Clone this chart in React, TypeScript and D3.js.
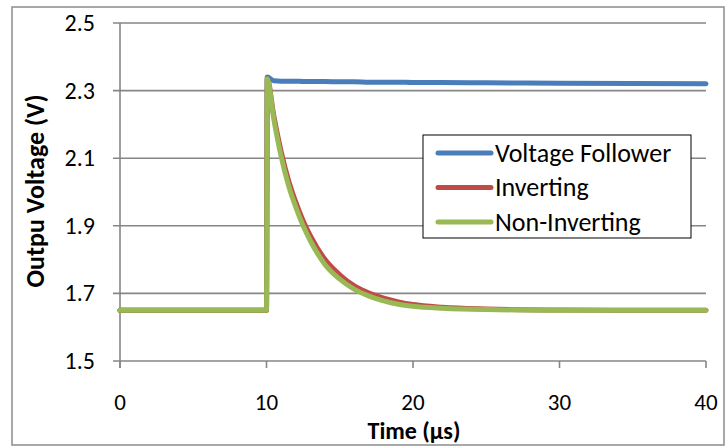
import React from "react";
import * as d3 from "d3";

// time in microseconds
const times = [0, 10, 10.05, 10.5, 11, 11.5, 12, 12.5, 13, 14, 15, 16, 17, 18, 19, 20, 22, 25, 30, 40];
const follower = [1.65, 1.65, 2.34, 2.329, 2.328, 2.328, 2.328, 2.327, 2.327, 2.327, 2.326, 2.326, 2.325, 2.325, 2.325, 2.324, 2.324, 2.323, 2.322, 2.32];
const inverting = [1.65, 1.65, 2.335, 2.225, 2.12, 2.035, 1.97, 1.915, 1.87, 1.8, 1.755, 1.722, 1.701, 1.686, 1.675, 1.667, 1.659, 1.654, 1.651, 1.65];
const nonInverting = [1.65, 1.65, 2.335, 2.215, 2.105, 2.02, 1.955, 1.9, 1.855, 1.785, 1.742, 1.712, 1.692, 1.678, 1.668, 1.662, 1.656, 1.652, 1.65, 1.65];

const seriesNames = ["Voltage Follower", "Inverting", "Non-Inverting"];
const seriesColors = ["#4a7ebb", "#be4b48", "#98b954"];
const xTicks = [0, 10, 20, 30, 40];
const yTicks = [1.5, 1.7, 1.9, 2.1, 2.3, 2.5];

const App = () => {
  const width = 725;
  const height = 446;
  const x = d3.scaleLinear().domain([0, 40]).range([120, 706]);
  const y = d3.scaleLinear().domain([1.5, 2.5]).range([361, 23]);
  const line = d3
    .line<[number, number]>()
    .x((d) => x(d[0]))
    .y((d) => y(d[1]))
    .curve(d3.curveMonotoneX);
  const all = [follower, inverting, nonInverting];
  const font = "Carlito, Calibri, 'Open Sans', sans-serif";
  const grey = "#868686";

  return (
    <svg
      width={width}
      height={height}
      style={{ position: "absolute", left: 0, top: 0 }}
      fontFamily={font}
    >
      <rect x={0} y={0} width={width} height={height} fill="white" />
      <rect x={12} y={7} width={712} height={438} fill="none" stroke="#8c8c8c" strokeWidth={1.5} />

      {yTicks.map((t) => (
        <g key={t}>
          <line x1={113} x2={x(40)} y1={y(t)} y2={y(t)} stroke={grey} strokeWidth={1.6} />
          <text x={95} y={y(t) + 8} fontSize={24} textAnchor="end" fill="#000">
            {t.toFixed(1)}
          </text>
        </g>
      ))}
      <line x1={x(0)} x2={x(0)} y1={y(2.5)} y2={368} stroke={grey} strokeWidth={1.6} />
      {xTicks.map((t) => (
        <g key={t}>
          <line x1={x(t)} x2={x(t)} y1={y(1.5)} y2={368} stroke={grey} strokeWidth={1.6} />
          <text x={x(t)} y={410} fontSize={23} textAnchor="middle" fill="#000">
            {t}
          </text>
        </g>
      ))}

      {all.map((vals, i) => (
        <path
          key={i}
          d={line(times.map((t, j) => [t, vals[j]]) as [number, number][]) || ""}
          fill="none"
          stroke={seriesColors[i]}
          strokeWidth={5}
          strokeLinejoin="round"
          strokeLinecap="round"
        />
      ))}

      <rect x={423} y={135} width={268} height={103} fill="white" stroke="#000" strokeWidth={1} />
      {seriesNames.map((name, i) => (
        <g key={name}>
          <line
            x1={438}
            x2={491}
            y1={153 + i * 34.5}
            y2={153 + i * 34.5}
            stroke={seriesColors[i]}
            strokeWidth={5}
            strokeLinecap="round"
          />
          <text x={495} y={153 + i * 34.5 + 8.5} fontSize={26} fill="#000">
            {name}
          </text>
        </g>
      ))}

      <text
        transform={`translate(44,191) rotate(-90)`}
        textAnchor="middle"
        fontSize={26}
        fontWeight="bold"
        fill="#000"
      >
        Outpu Voltage (V)
      </text>
      <text x={414} y={439} textAnchor="middle" fontSize={24} fontWeight="bold" fill="#000">
        Time (µs)
      </text>
    </svg>
  );
};

export default App;
